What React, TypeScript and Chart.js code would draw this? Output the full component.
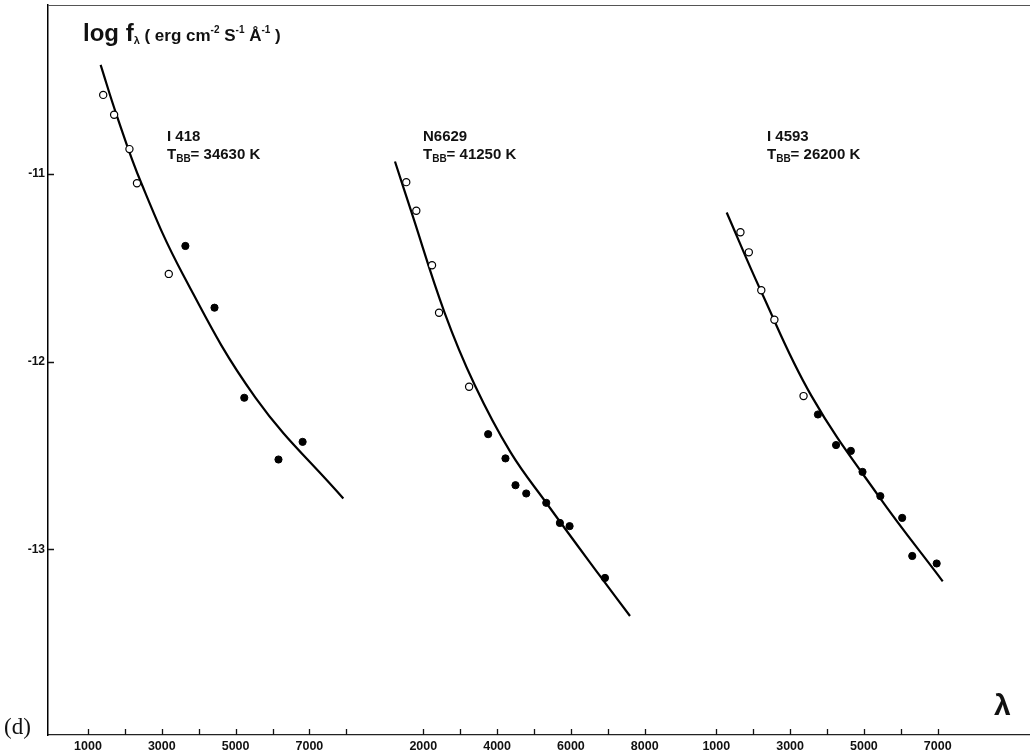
import React, { useEffect, useRef } from "react";
import { Chart, registerables } from "chart.js";

Chart.register(...registerables);

// ---------------- data (λ in Å, log fλ in erg cm^-2 s^-1 Å^-1) ----------------
// IC 418  (T_BB = 34630 K)
const I418_OPEN_LAMBDA = [1412, 1708, 2123, 2327, 3189];
const I418_OPEN_LOGF = [-10.579, -10.685, -10.868, -11.05, -11.533];
const I418_FILLED_LAMBDA = [3639, 4428, 5235, 6162, 6816];
const I418_FILLED_LOGF = [-11.384, -11.713, -12.193, -12.522, -12.428];
const I418_CURVE_LAMBDA = [1342, 1773, 2446, 3566, 5542, 7920];
const I418_CURVE_LOGF = [-10.419, -10.685, -11.05, -11.533, -12.193, -12.73];

// NGC 6629  (T_BB = 41250 K)
const N6629_OPEN_LAMBDA = [1538, 1810, 2236, 2426, 3241];
const N6629_OPEN_LOGF = [-11.044, -11.196, -11.487, -11.74, -12.134];
const N6629_FILLED_LAMBDA = [3757, 4226, 4498, 4789, 5332, 5701, 5964, 6923];
const N6629_FILLED_LOGF = [-12.387, -12.516, -12.659, -12.703, -12.753, -12.86, -12.877, -13.153];
const N6629_CURVE_LAMBDA = [1232, 1666, 2578, 3393, 4362, 5340, 6752, 7601];
const N6629_CURVE_LOGF = [-10.934, -11.196, -11.74, -12.125, -12.483, -12.755, -13.133, -13.356];

// IC 4593  (T_BB = 26200 K)
const I4593_OPEN_LAMBDA = [1654, 1881, 2219, 2574, 3364];
const I4593_OPEN_LOGF = [-11.311, -11.418, -11.62, -11.777, -12.184];
const I4593_FILLED_LAMBDA = [3754, 4245, 4646, 4962, 5445, 6037, 6310, 6972];
const I4593_FILLED_LOGF = [-12.282, -12.445, -12.476, -12.588, -12.717, -12.833, -13.036, -13.076];
const I4593_CURVE_LAMBDA = [1281, 2200, 3582, 5399, 7136];
const I4593_CURVE_LOGF = [-11.206, -11.62, -12.184, -12.717, -13.171];

// panel names / temperatures
const PANEL_NAMES = ["I 418", "N6629", "I 4593"];
const PANEL_TBB = ["34630 K", "41250 K", "26200 K"];

// shared broken λ axis: shift (Å) added to each panel's λ
const AXIS_BREAK_SHIFT = [0, 8087, 17027];

// tick marks and labelled ticks of each panel
const PANEL1_TICKS = [1000, 2000, 3000, 4000, 5000, 6000, 7000, 8000];
const PANEL1_LABELS = [1000, 3000, 5000, 7000];
const PANEL2_TICKS = [2000, 3000, 4000, 5000, 6000, 7000, 8000];
const PANEL2_LABELS = [2000, 4000, 6000, 8000];
const PANEL3_TICKS = [1000, 2000, 3000, 4000, 5000, 6000, 7000];
const PANEL3_LABELS = [1000, 3000, 5000, 7000];

const Y_TICKS = [-13, -12, -11];
const X_MIN = -84;
const X_MAX = 26528;
const Y_MIN = -13.99;
const Y_MAX = -10.1;

// ---------------- helpers ----------------
const pts = (lam: number[], lf: number[], panel: number) =>
  lam.map((l, i) => ({ x: l + AXIS_BREAK_SHIFT[panel], y: lf[i] }));

const xTickList: { value: number; label: string }[] = [];
[
  [PANEL1_TICKS, PANEL1_LABELS],
  [PANEL2_TICKS, PANEL2_LABELS],
  [PANEL3_TICKS, PANEL3_LABELS],
].forEach(([ticks, labels], p) => {
  ticks.forEach((t) =>
    xTickList.push({
      value: t + AXIS_BREAK_SHIFT[p],
      label: labels.includes(t) ? String(t) : "",
    })
  );
});

const SANS = "'Liberation Sans', Arial, sans-serif";

type Run = { t: string; size: number; dy?: number; font?: string };
function drawRuns(ctx: CanvasRenderingContext2D, x: number, y: number, runs: Run[]) {
  let cx = x;
  runs.forEach((r) => {
    ctx.font = r.font ? r.font : `bold ${r.size}px ${SANS}`;
    ctx.fillText(r.t, cx, y + (r.dy || 0));
    cx += ctx.measureText(r.t).width;
  });
}

const decorPlugin = {
  id: "decor",
  afterDraw(chart: any) {
    const { ctx, chartArea, scales } = chart;
    const { left, top, right, bottom } = chartArea;
    const xs = scales.x;
    const ys = scales.y;
    ctx.save();
    // top frame line
    ctx.strokeStyle = "#555";
    ctx.lineWidth = 1;
    ctx.beginPath();
    ctx.moveTo(left, top + 0.5);
    ctx.lineTo(right, top + 0.5);
    ctx.stroke();
    // inward tick marks
    ctx.strokeStyle = "#111";
    ctx.lineWidth = 1.3;
    ctx.beginPath();
    xs.ticks.forEach((t: any) => {
      const px = Math.round(xs.getPixelForValue(t.value)) + 0.5;
      ctx.moveTo(px, bottom);
      ctx.lineTo(px, bottom - 6);
    });
    ys.ticks.forEach((t: any) => {
      const py = Math.round(ys.getPixelForValue(t.value)) + 0.5;
      ctx.moveTo(left, py);
      ctx.lineTo(left + 6, py);
    });
    ctx.stroke();

    ctx.fillStyle = "#111";
    ctx.textBaseline = "alphabetic";
    ctx.textAlign = "left";
    // y axis title
    drawRuns(ctx, 83, 41, [
      { t: "log f", size: 24 },
      { t: "λ", size: 11, dy: 3 },
      { t: " ( erg cm", size: 17 },
      { t: "-2", size: 10, dy: -8 },
      { t: " S", size: 17 },
      { t: "-1", size: 10, dy: -8 },
      { t: " Å", size: 17 },
      { t: "-1", size: 10, dy: -8 },
      { t: " )", size: 17 },
    ]);
    // panel labels
    const labelX = [167, 423, 767];
    PANEL_NAMES.forEach((name, i) => {
      drawRuns(ctx, labelX[i], 141, [{ t: name, size: 15 }]);
      drawRuns(ctx, labelX[i], 159, [
        { t: "T", size: 15 },
        { t: "BB", size: 10, dy: 3 },
        { t: "= " + PANEL_TBB[i], size: 15 },
      ]);
    });
    // (d)
    drawRuns(ctx, 4, 734, [{ t: "(d)", size: 23, font: "23px 'Liberation Serif', 'Times New Roman', serif" }]);
    // λ axis symbol
    drawRuns(ctx, 994, 715, [{ t: "λ", size: 30 }]);
    ctx.restore();
  },
};

export default function App() {
  const canvasRef = useRef<HTMLCanvasElement | null>(null);

  useEffect(() => {
    if (!canvasRef.current) return;
    const curve = (lam: number[], lf: number[], p: number) => ({
      type: "line" as const,
      data: pts(lam, lf, p),
      borderColor: "#000",
      borderWidth: 2.2,
      pointRadius: 0,
      showLine: true,
      fill: false,
      tension: 0.4,
      order: 2,
    });
    const open = (lam: number[], lf: number[], p: number) => ({
      type: "scatter" as const,
      data: pts(lam, lf, p),
      backgroundColor: "#fff",
      borderColor: "#000",
      borderWidth: 1.2,
      pointRadius: 3.6,
      order: 1,
    });
    const filled = (lam: number[], lf: number[], p: number) => ({
      type: "scatter" as const,
      data: pts(lam, lf, p),
      backgroundColor: "#000",
      borderColor: "#000",
      borderWidth: 1,
      pointRadius: 3.6,
      order: 1,
    });

    const chart = new Chart(canvasRef.current, {
      type: "scatter",
      data: {
        datasets: [
          curve(I418_CURVE_LAMBDA, I418_CURVE_LOGF, 0),
          open(I418_OPEN_LAMBDA, I418_OPEN_LOGF, 0),
          filled(I418_FILLED_LAMBDA, I418_FILLED_LOGF, 0),
          curve(N6629_CURVE_LAMBDA, N6629_CURVE_LOGF, 1),
          open(N6629_OPEN_LAMBDA, N6629_OPEN_LOGF, 1),
          filled(N6629_FILLED_LAMBDA, N6629_FILLED_LOGF, 1),
          curve(I4593_CURVE_LAMBDA, I4593_CURVE_LOGF, 2),
          open(I4593_OPEN_LAMBDA, I4593_OPEN_LOGF, 2),
          filled(I4593_FILLED_LAMBDA, I4593_FILLED_LOGF, 2),
        ] as any,
      },
      options: {
        animation: false,
        responsive: false,
        devicePixelRatio: 1,
        layout: { autoPadding: false, padding: { top: 5, left: 0, right: 0, bottom: 0 } },
        plugins: {
          legend: { display: false },
          tooltip: { enabled: false },
        },
        scales: {
          x: {
            type: "linear",
            min: X_MIN,
            max: X_MAX,
            grid: { display: false, drawTicks: false },
            border: { display: true, color: "#222", width: 1.2 },
            afterBuildTicks: (s: any) => {
              s.ticks = xTickList.map((t) => ({ value: t.value }));
            },
            afterFit: (s: any) => {
              s.height = 20;
              s.paddingLeft = 0;
              s.paddingRight = 0;
            },
            ticks: {
              autoSkip: false,
              maxRotation: 0,
              padding: 4,
              color: "#111",
              font: { family: SANS, size: 12.5, weight: "bold" },
              callback: (_v: any, i: number) => xTickList[i]?.label ?? "",
            },
          },
          y: {
            type: "linear",
            min: Y_MIN,
            max: Y_MAX,
            grid: { display: false, drawTicks: false },
            border: { display: true, color: "#000", width: 1.5 },
            afterBuildTicks: (s: any) => {
              s.ticks = Y_TICKS.map((v) => ({ value: v }));
            },
            afterFit: (s: any) => {
              s.width = 48;
              s.paddingTop = 0;
              s.paddingBottom = 0;
            },
            ticks: {
              padding: 3,
              color: "#111",
              font: { family: SANS, size: 12, weight: "bold" },
              callback: (v: any) => String(v),
            },
          },
        },
      } as any,
      plugins: [decorPlugin],
    });
    return () => chart.destroy();
  }, []);

  return (
    <div style={{ position: "absolute", left: 0, top: 0, width: 1030, height: 755, background: "#fff" }}>
      <canvas ref={canvasRef} width={1030} height={755} style={{ display: "block" }} />
    </div>
  );
}
